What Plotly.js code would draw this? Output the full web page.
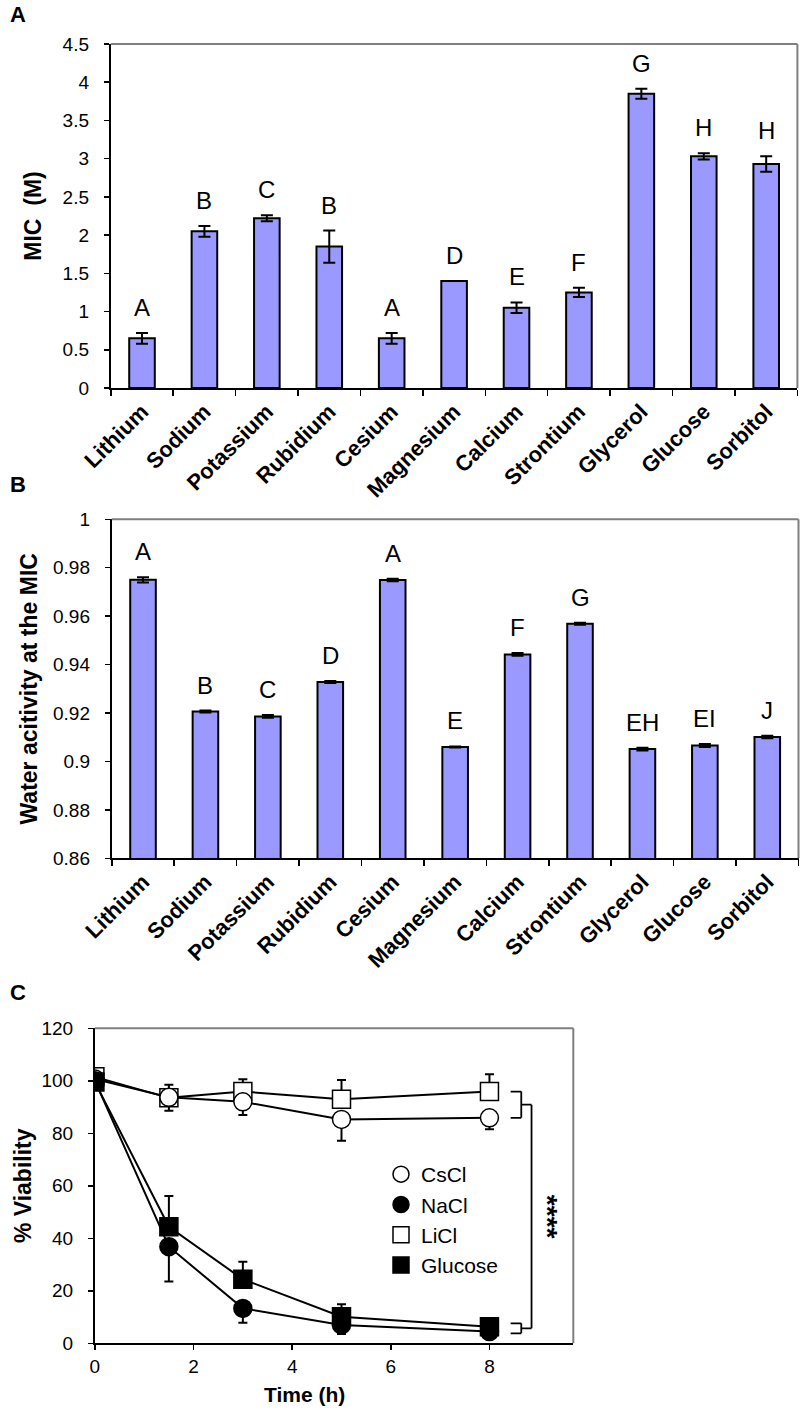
<!DOCTYPE html>
<html><head><meta charset="utf-8">
<script src="https://cdn.plot.ly/plotly-3.0.1.min.js"></script>
<style>html,body{margin:0;padding:0;background:#fff}#chart{width:800px;height:1411px}</style>
</head><body><div id="chart"></div>
<script>
// ---- data ----
const categories = ['Lithium','Sodium','Potassium','Rubidium','Cesium','Magnesium','Calcium','Strontium','Glycerol','Glucose','Sorbitol'];
const micValues  = [0.65, 2.05, 2.22, 1.85, 0.65, 1.40, 1.05, 1.25, 3.85, 3.03, 2.93];
const micErrors  = [0.07, 0.07, 0.04, 0.21, 0.07, 0.00, 0.07, 0.06, 0.065, 0.04, 0.10];
const micLetters = ['A','B','C','B','A','D','E','F','G','H','H'];
const awValues   = [0.9750, 0.9206, 0.9186, 0.9328, 0.9749, 0.9060, 0.9442, 0.9569, 0.9051, 0.9066, 0.9101];
const awErrors   = [0.0011, 0.0004, 0.0006, 0.0004, 0.0005, 0.0002, 0.0006, 0.0004, 0.0006, 0.0006, 0.0005];
const awLetters  = ['A','B','C','D','A','E','F','G','EH','EI','J'];
const timeHours  = [0, 1.5, 3, 5, 8];
const csclViab   = [100.7, 93.7, 92.0, 85.3, 85.9];
const csclErrLow = [0, 5.1, 5.0, 8.1, 4.4];
const naclViab   = [100.0, 36.8, 13.3, 7.0, 4.5];
const naclErrLow = [0, 13.3, 5.5, 3.5, 1.0];
const liclViab   = [101.5, 93.5, 95.9, 93.0, 95.9];
const liclErrUp  = [0, 5.0, 4.7, 7.3, 6.6];
const glucViab   = [99.5, 44.4, 24.4, 10.1, 6.3];
const glucErrUp  = [0, 11.7, 6.7, 4.8, 1.0];
const seriesNames = ['CsCl','NaCl','LiCl','Glucose'];

const FONT = 'Liberation Sans, Arial, Helvetica, sans-serif';
const BAR_FILL = '#9999FF';
const zeros = timeHours.map(() => 0);

function barTrace(vals, errs, xa, ya) {
  return {
    type: 'bar', x: categories, y: vals, xaxis: xa, yaxis: ya,
    marker: {color: BAR_FILL, line: {color: '#000', width: 2}},
    error_y: {type: 'data', array: errs, visible: true, color: '#000', thickness: 2, width: 6},
    showlegend: false, hoverinfo: 'x+y'
  };
}

function lineTrace(name, y, up, low, symbol, fill) {
  return {
    type: 'scatter', mode: 'lines+markers', name: name, x: timeHours, y: y,
    xaxis: 'x3', yaxis: 'y3', showlegend: false,
    line: {color: '#000', width: 2},
    marker: {symbol: symbol, size: 18, color: fill, line: {color: '#000', width: 1.5}},
    error_y: {type: 'data', symmetric: false, array: up, arrayminus: low, visible: true,
              color: '#000', thickness: 2, width: 4.5}
  };
}

function legendTrace(name, symbol, fill) {
  return {
    type: 'scatter', mode: 'markers', name: name, x: [null], y: [null],
    xaxis: 'x3', yaxis: 'y3', showlegend: true,
    marker: {symbol: symbol, size: 18, color: fill, line: {color: '#000', width: 1.5}}
  };
}

const traces = [
  barTrace(micValues, micErrors, 'x', 'y'),
  barTrace(awValues, awErrors, 'x2', 'y2'),
  lineTrace('LiCl', liclViab, liclErrUp, zeros, 'square', '#fff'),
  lineTrace('CsCl', csclViab, zeros, csclErrLow, 'circle', '#fff'),
  lineTrace('NaCl', naclViab, zeros, naclErrLow, 'circle', '#000'),
  lineTrace('Glucose', glucViab, glucErrUp, zeros, 'square', '#000'),
  legendTrace(seriesNames[0], 'circle', '#fff'),
  legendTrace(seriesNames[1], 'circle', '#000'),
  legendTrace(seriesNames[2], 'square', '#fff'),
  legendTrace(seriesNames[3], 'square', '#000')
];

const W = 800, H = 1411;
const px = v => v / W, py = v => 1 - v / H;

const tickFont = {family: FONT, size: 19, color: '#000'};
const catFont = {family: FONT, size: 22, color: '#000', weight: 'bold'};
const titleFont = {family: FONT, size: 23, color: '#000', weight: 'bold'};

function catAxis(domain, anchor) {
  return {
    domain: domain, anchor: anchor, type: 'category', tickson: 'boundaries',
    ticks: 'outside', ticklen: 6, tickwidth: 1.5, tickcolor: '#000',
    showline: true, linecolor: '#000', linewidth: 2, showgrid: false, zeroline: false,
    tickangle: -45, tickfont: catFont, fixedrange: true
  };
}
function valAxis(domain, anchor, range, dtick, titleText, standoff) {
  return {
    domain: domain, anchor: anchor, range: range, dtick: dtick,
    ticks: 'outside', ticklen: 5, tickwidth: 1.5, tickcolor: '#000', ticklabelstandoff: 11,
    showline: true, linecolor: '#000', linewidth: 2, showgrid: false, zeroline: false,
    tickfont: tickFont, title: {text: titleText, font: titleFont, standoff: standoff}, fixedrange: true
  };
}

const annotations = [];
function addLetters(vals, errs, letters, xa, ya) {
  letters.forEach((t, i) => annotations.push({
    xref: xa, yref: ya, x: categories[i], y: vals[i] + errs[i], text: t,
    showarrow: false, yanchor: 'bottom', yshift: 10,
    font: {family: FONT, size: 24, color: '#000'}
  }));
}
addLetters(micValues, micErrors, micLetters, 'x', 'y');
addLetters(awValues, awErrors, awLetters, 'x2', 'y2');

[['A', 15], ['B', 484], ['C', 992]].forEach(([t, yy]) => annotations.push({
  xref: 'paper', yref: 'paper', x: px(8), y: py(yy), xanchor: 'left', yanchor: 'middle',
  text: t, showarrow: false, font: {family: FONT, size: 22, color: '#000', weight: 'bold'}
}));

annotations.push({
  xref: 'paper', yref: 'paper', x: px(304), y: py(1394), xanchor: 'center', yanchor: 'middle',
  text: 'Time (h)', showarrow: false, font: {family: FONT, size: 21, color: '#000', weight: 'bold'}
});

// significance bracket
const last = timeHours.length - 1;
const xb0 = 8.43, xb1 = 8.645, xb2 = 8.853;
const upTop = liclViab[last], upBot = csclViab[last];
const loTop = glucViab[last] + 1.3, loBot = naclViab[last] - 0.7;
const upMid = (upTop + upBot) / 2, loMid = (loTop + loBot) / 2;
annotations.push({
  xref: 'x3', yref: 'y3', x: 9.18, y: (upMid + loMid) / 2, text: '****', textangle: 90,
  showarrow: false, font: {family: FONT, size: 28, color: '#000', weight: 'bold'}
});

const bl = {color: '#000', width: 1.8};
const shapes = [];
[['x', 'y'], ['x2', 'y2'], ['x3', 'y3']].forEach(([xa, ya]) => {
  shapes.push({type: 'line', xref: xa + ' domain', yref: ya + ' domain', x0: 0, x1: 1, y0: 1, y1: 1, line: {color: '#7f7f7f', width: 2}});
  shapes.push({type: 'line', xref: xa + ' domain', yref: ya + ' domain', x0: 1, x1: 1, y0: 0, y1: 1, line: {color: '#7f7f7f', width: 2}});
});
const seg = (x0, y0, x1, y1) => shapes.push({type: 'line', xref: 'x3', yref: 'y3', x0, y0, x1, y1, line: bl});
seg(xb0, upTop, xb1, upTop); seg(xb1, upTop, xb1, upBot); seg(xb0, upBot, xb1, upBot);
seg(xb0, loTop, xb1, loTop); seg(xb1, loTop, xb1, loBot); seg(xb0, loBot, xb1, loBot);
seg(xb1, upMid, xb2, upMid); seg(xb2, upMid, xb2, loMid); seg(xb1, loMid, xb2, loMid);

const layout = {
  width: W, height: H, margin: {l: 0, r: 0, t: 0, b: 0},
  paper_bgcolor: '#fff', plot_bgcolor: '#fff', font: {family: FONT, color: '#000'},
  bargap: 0.59, showlegend: true,
  legend: {x: px(381), y: py(1154), xanchor: 'left', yanchor: 'top', bgcolor: 'rgba(0,0,0,0)',
           font: {family: FONT, size: 21, color: '#000'}, tracegroupgap: 0, itemclick: false},
  xaxis: catAxis([px(110.8), px(797.4)], 'y'),
  yaxis: valAxis([py(388), py(44)], 'x', [0, 4.5], 0.5, 'MIC  (M)', 15),
  xaxis2: catAxis([px(111.8), px(798.5)], 'y2'),
  yaxis2: valAxis([py(858.3), py(519.3)], 'x2', [0.86, 1], 0.02, 'Water acitivity at the MIC', 9),
  xaxis3: {
    domain: [px(94.9), px(573.3)], anchor: 'y3', range: [0, 9.7], dtick: 2,
    ticks: 'outside', ticklen: 5, tickwidth: 1.5, tickcolor: '#000',
    showline: true, linecolor: '#000', linewidth: 2, showgrid: false, zeroline: false,
    tickfont: tickFont, fixedrange: true
  },
  yaxis3: valAxis([py(1343.3), py(1028.3)], 'x3', [0, 120], 20, '% Viability', 3),
  annotations: annotations, shapes: shapes
};

Plotly.newPlot('chart', traces, layout, {displayModeBar: false, staticPlot: true});
</script></body></html>
